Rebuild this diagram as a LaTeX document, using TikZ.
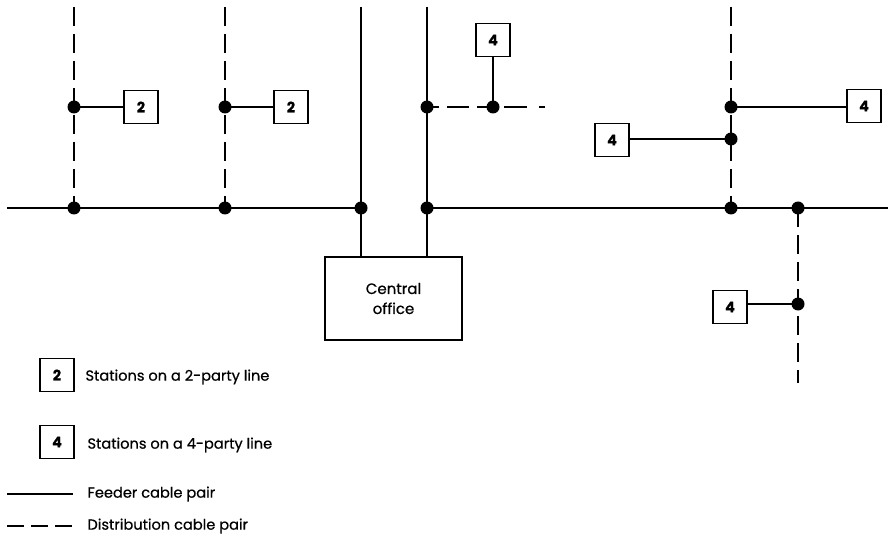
\documentclass[tikz,border=0pt]{standalone}
\usepackage{fontspec}
\setmainfont{Poppins}[FakeBold=0.6]
\begin{document}
\begin{tikzpicture}[x=1pt,y=-1pt,
  wire/.style={line width=2.8pt},
  distwire/.style={line width=2.8pt,dash pattern=on 19pt off 8pt},
  legdash/.style={line width=2.8pt,dash pattern=on 17pt off 7pt},
  dot/.style={circle,fill=black,inner sep=0pt,minimum size=13pt},
  station/.style={draw,line width=1.9pt,minimum width=34pt,minimum height=33pt,inner sep=0pt,font=\fontsize{14.5}{16}\selectfont\bfseries},
  office/.style={draw,line width=1.9pt,minimum width=137pt,minimum height=83pt,align=center,font=\fontsize{15}{20}\selectfont},
  legtext/.style={anchor=west,font=\fontsize{14.6}{16}\selectfont}]
\useasboundingbox (0,0) rectangle (888,537);
% endpoints
\coordinate (L) at (7,208);
\coordinate (R) at (888,208);
\coordinate (t1) at (74,7);
\coordinate (t2) at (225,7);
\coordinate (t3) at (361,7);
\coordinate (t4) at (427,7);
\coordinate (t5) at (731,7);
\coordinate (e4) at (545,107);
\coordinate (b6) at (798,383);
% dots
\node[dot] (a1) at (74,107) {};
\node[dot] (a2) at (74,208) {};
\node[dot] (b1) at (225,107) {};
\node[dot] (b2) at (225,208) {};
\node[dot] (c2) at (361,208) {};
\node[dot] (d1) at (427,107) {};
\node[dot] (d2) at (427,208) {};
\node[dot] (d3) at (493,107) {};
\node[dot] (f1) at (731,107) {};
\node[dot] (f2) at (731,139) {};
\node[dot] (f3) at (731,208) {};
\node[dot] (g1) at (798,208) {};
\node[dot] (g2) at (798,304) {};
% stations
\node[station] (s1) at (141,107) {2};
\node[station] (s2) at (291,107) {2};
\node[station] (s3) at (493,40) {4};
\node[station] (s4) at (864,106) {4};
\node[station] (s5) at (612,140) {4};
\node[station] (s6) at (730,307) {4};
% central office
\node[office] (co) at (393.5,298.5) {Central\\office};
% feeder cables
\draw[wire] (L) -- (c2.center);
\draw[wire] (d2.center) -- (R);
\draw[wire] (t3) -- (t3 |- co.north);
\draw[wire] (t4) -- (t4 |- co.north);
% distribution cables
\draw[distwire] (t1) -- (a2.center);
\draw[distwire] (t2) -- (b2.center);
\draw[distwire] (t5) -- (f3.center);
\draw[distwire] (g1.center) -- (b6);
\draw[line width=2.8pt,dash pattern=on 12pt off 8pt on 22pt off 8pt on 12pt off 15pt on 23pt] (d1.center) -- (e4);
% drops
\draw[wire] (a1.center) -- (a1.center -| s1.west);
\draw[wire] (b1.center) -- (b1.center -| s2.west);
\draw[wire] (d3.center) -- (s3.south);
\draw[wire] (f1.center) -- (f1.center -| s4.west);
\draw[wire] (f2.center) -- (f2.center -| s5.east);
\draw[wire] (g2.center) -- (g2.center -| s6.east);
% legend
\node[station] (k2) at (57,375) {2};
\node[legtext] (k2t) at (82,377) {Stations on a 2-party line};
\node[station] (k4) at (57,442) {4};
\node[legtext] (k4t) at (84,445) {Stations on a 4-party line};
\coordinate (fa) at (7,494);
\coordinate (fb) at (73,494);
\draw[wire] (fa) -- (fb);
\node[legtext] (ft) at (84,494) {Feeder cable pair};
\coordinate (da) at (7,526);
\coordinate (db) at (73,526);
\draw[legdash] (da) -- (db);
\node[legtext] (dt) at (84,526) {Distribution cable pair};
\end{tikzpicture}
\end{document}
